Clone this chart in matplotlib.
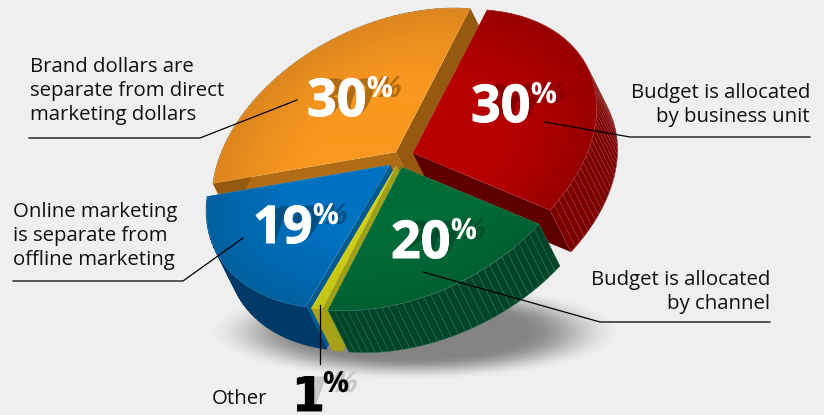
import numpy as np
import matplotlib
matplotlib.use("Agg")
import matplotlib.pyplot as plt
from matplotlib.patches import Wedge
from matplotlib.transforms import Affine2D
from matplotlib.collections import PolyCollection
from matplotlib.colors import to_rgb
from matplotlib.patheffects import AbstractPathEffect, Normal, Stroke

# data (clockwise from the top of the pie)
names = ["Budget is allocated\nby business unit", "Budget is allocated\nby channel", "Other",
         "Online marketing\nis separate from\noffline marketing",
         "Brand dollars are\nseparate from direct\nmarketing dollars"]
values = [30, 20, 1, 19, 30]

# style
bright = ["#b80000", "#006c39", "#cfcf14", "#0072c2", "#fa981f"]
dark = ["#980000", "#005f30", "#c4c414", "#00609f", "#dc861e"]
arc_col = ["#7c0000", "#00452a", "#a8a018", "#003a68", "#955a10"]
arc_line = ["#993838", "#2f7050", None, None, None]
side_start = ["#5f0000", "#004020", "#a0a018", "#005a90", "#b06c14"]
side_end = ["#5f0000", "#004020", "#a0a018", "#005a90", "#955a10"]
shifts = [(413, 153), (402, 167), (396, 166), (390, 165), (396, 152)]
draw_order = [4, 0, 3, 2, 1]
U = (74, -143)
W = (168, 13.5)
D = (21, 42)
W_PX, H_PX = 824, 415
BG = "#efefef"
FONT = "Open Sans"


class SkewShadow(AbstractPathEffect):
    def __init__(self, color, skew_deg, dx):
        super().__init__()
        self.color, self.skew_deg, self.dx = color, skew_deg, dx

    def draw_path(self, renderer, gc, tpath, affine, rgbFace=None):
        tr = Affine2D().skew_deg(self.skew_deg, 0) + affine + Affine2D().translate(self.dx, 0)
        gc0 = renderer.new_gc()
        gc0.copy_properties(gc)
        gc0.set_linewidth(0)
        renderer.draw_path(gc0, tpath, tr, to_rgb(self.color))
        gc0.restore()


fig = plt.figure(figsize=(W_PX / 100, H_PX / 100), dpi=100, facecolor=BG)
ax = fig.add_axes([0, 0, 1, 1])
wedges, _ = ax.pie(values, startangle=90, counterclock=False, radius=1)
ax.set_aspect("auto")
ax.set_xlim(0, W_PX)
ax.set_ylim(H_PX, 0)
ax.axis("off")

yy, xx = np.mgrid[0:H_PX, 0:W_PX] + 0.5
# soft shadow
d = np.hypot((xx - 415) / 196, (yy - 332) / 46)
a = np.clip((1.06 - d) / 0.5, 0, 1)
a = a * a * (3 - 2 * a)
sh = np.zeros((H_PX, W_PX, 4))
sh[..., :3] = 0.52
sh[..., 3] = a
ax.imshow(sh, extent=(0, W_PX, H_PX, 0), aspect="auto", zorder=0.5, interpolation="bilinear")

M = np.array([[W[0], U[0]], [W[1], U[1]]], float)
Minv = np.linalg.inv(M)


def to_px(theta, c, off=(0, 0)):
    t = np.radians(theta)
    p = M @ np.vstack([np.cos(t), np.sin(t)])
    return np.column_stack([p[0] + c[0] + off[0], p[1] + c[1] + off[1]])


z = 1.0
for i in draw_order:
    w = wedges[i]
    c = shifts[i]
    th1, th2 = w.theta1, w.theta2
    # radial walls
    e1 = to_px([th2], c)[0]
    e2 = to_px([th1], c)[0]
    cc = np.array(c, float)
    dv = np.array(D, float)
    ax.fill(*zip(cc, e1, e1 + dv, cc + dv), color=side_start[i], lw=0, zorder=z)
    ax.fill(*zip(cc, e2, e2 + dv, cc + dv), color=side_end[i], lw=0, zorder=z)
    # outer wall facets
    n = max(2, int(round((th2 - th1) / 2.2)))
    th = np.linspace(th1, th2, n + 1)
    top, bot = to_px(th, c), to_px(th, c, D)
    quads = [[top[k], top[k + 1], bot[k + 1], bot[k]] for k in range(n)]
    ax.add_collection(PolyCollection(quads, facecolors=arc_col[i],
                                     edgecolors=arc_line[i] or arc_col[i],
                                     linewidths=0.35 if arc_line[i] else 0.9, zorder=z + 0.1))
    # top face
    w.set_transform(Affine2D.from_values(M[0, 0], M[1, 0], M[0, 1], M[1, 1], c[0], c[1]) + ax.transData)
    w.set_facecolor(bright[i])
    w.set_edgecolor("none")
    w.set_zorder(z + 0.2)
    ux = Minv[0, 0] * (xx - c[0]) + Minv[0, 1] * (yy - c[1])
    uy = Minv[1, 0] * (xx - c[0]) + Minv[1, 1] * (yy - c[1])
    r = np.hypot(ux, uy)
    t = np.clip((r - 0.45) / 0.55, 0, 1)[..., None] ** 1.3
    img = (1 - t) * np.array(to_rgb(bright[i])) + t * np.array(to_rgb(dark[i]))
    im = ax.imshow(img, extent=(0, W_PX, H_PX, 0), aspect="auto", zorder=z + 0.3)
    im.set_clip_path(w)
    outline = Wedge((0, 0), 1, th1, th2, fc="none", ec="#ffffff", lw=0.4,
                    alpha=0.22, transform=w.get_transform(), zorder=z + 0.4)
    ax.add_patch(outline)
    z += 1

ax.set_xlim(0, W_PX)
ax.set_ylim(H_PX, 0)
ax.set_aspect("auto")

# percent labels: anchor x, baseline y, text colour, shadow colour, font, size
pct_pos = [(471, 122), (391, 258), (292, 411), (253, 243), (307, 116)]
pct_col = ["white", "white", "black", "white", "white"]
pct_shadow = ["#8a0000", "#004f28", "#c8c8c8", "#004f85", "#b06c14"]
pct_font = [FONT, FONT, "DejaVu Sans", FONT, FONT]
pct_size = [37.5, 37.5, 34, 37.5, 37.5]
for i, v in enumerate(values):
    x, y = pct_pos[i]
    s = str(v)
    wid = 0.75 * 37.5 * 1.3333 * 0.77 * len(s)
    ax.text(x, y, s, fontsize=pct_size[i], family=pct_font[i], weight="bold", color=pct_col[i],
            ha="left", va="baseline", zorder=21,
            path_effects=[SkewShadow(pct_shadow[i], 20, 0),
                          Stroke(linewidth=0.7, foreground=pct_col[i]), Normal()])
    ax.text(x + wid + 2, y - 19, "%", fontsize=21, family=FONT, weight="bold",
            color=pct_col[i], ha="left", va="baseline", zorder=22,
            path_effects=[SkewShadow(pct_shadow[i], 18, 6), Normal()])

# category labels
lab_pos = [(810, 93, "right"), (770, 280, "right"), (212, 399, "left"), (13, 212, "left"), (30, 67, "left")]
for n_, (x, y, ha) in zip(names, lab_pos):
    for k, line in enumerate(n_.split("\n")):
        ax.text(x, y + 24 * k, line, fontsize=14.7, family=FONT, color="#111111", ha=ha, va="center", zorder=30)

# leader lines
leaders_x = [(545, 630, 810), (423, 600, 770), (320, 320), (243, 183, 13), (297, 200, 29)]
leaders_y = [(122, 137, 137), (272, 322, 322), (305, 364), (238, 281, 281), (100, 138, 138)]
for lx, ly in zip(leaders_x, leaders_y):
    ax.plot(lx, ly, color="black", lw=0.9, zorder=25, solid_joinstyle="miter")

fig.savefig("out.png", dpi=100, facecolor=BG)
